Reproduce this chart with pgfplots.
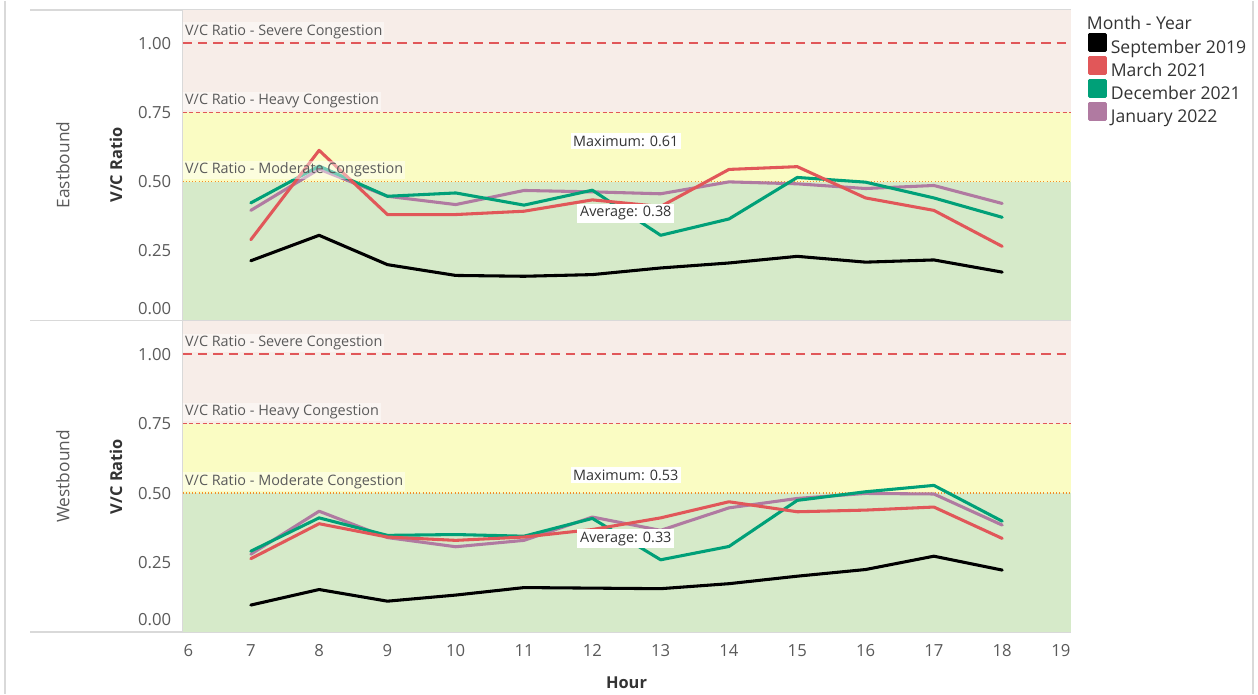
\documentclass[border=0pt]{standalone}
\usepackage{pgfplots}
\usepackage{pgfplotstable}
\pgfplotsset{compat=1.18}
\usepackage{fontspec}
\setmainfont{Open Sans}
\definecolor{cRed}{RGB}{225,87,89}
\definecolor{cGreen}{RGB}{0,160,120}
\definecolor{cPurple}{RGB}{176,122,161}
\definecolor{bPink}{RGB}{247,237,232}
\definecolor{bYellow}{RGB}{250,252,195}
\definecolor{bGreen}{RGB}{214,234,201}
\definecolor{frameGray}{RGB}{217,217,217}
\definecolor{tickGray}{RGB}{90,90,90}
\definecolor{darkText}{RGB}{51,51,51}
\definecolor{refOrange}{RGB}{242,142,43}

\pgfplotstableread{
h sep mar dec jan
7 0.214 0.290 0.423 0.396
8 0.306 0.613 0.556 0.545
9 0.200 0.381 0.447 0.447
10 0.161 0.381 0.459 0.417
11 0.158 0.393 0.415 0.468
12 0.164 0.434 0.469 0.463
13 0.188 0.410 0.306 0.456
14 0.206 0.544 0.365 0.499
15 0.230 0.554 0.515 0.492
16 0.209 0.441 0.498 0.475
17 0.217 0.396 0.441 0.486
18 0.173 0.266 0.371 0.421
}\east
\pgfplotstableread{
h sep mar dec jan
7 0.097 0.264 0.291 0.280
8 0.153 0.390 0.411 0.435
9 0.111 0.342 0.348 0.340
10 0.133 0.330 0.351 0.307
11 0.160 0.342 0.345 0.330
12 0.158 0.369 0.409 0.414
13 0.156 0.411 0.260 0.366
14 0.174 0.469 0.308 0.447
15 0.201 0.433 0.474 0.481
16 0.225 0.439 0.505 0.499
17 0.273 0.450 0.528 0.497
18 0.223 0.337 0.399 0.385
}\west

\tikzset{
  reflab/.style={anchor=west, fill=white, fill opacity=0.45, text opacity=1, inner xsep=1.5pt, inner ysep=1.5pt,
      text=tickGray, font=\fontsize{10.8}{13}\selectfont, yshift=8.8pt, xshift=0.3pt},
  annot/.style={fill=white, inner sep=2pt, text=darkText, font=\fontsize{10.8}{13}\selectfont},
  ser/.style={line width=2.3pt, line join=round, line cap=round},
}

\pgfplotsset{
  set layers,
  panel/.style={
    scale only axis, width=666pt,
    xmin=6, xmax=19, ymin=0, ymax=1.12,
    xtick={7,...,18}, ytick={0.25,0.5,0.75,1},
    major tick length=0pt,
    grid=major,
    major grid style={white, opacity=0.8, line width=0.8pt},
    axis line style={frameGray, line width=1pt},
    /pgf/number format/assume math mode=true,
    yticklabel style={/pgf/number format/.cd, fixed, fixed zerofill, precision=2, /tikz/.cd,
      font=\fontsize{12.5}{15}\selectfont, text=tickGray, xshift=-5pt},
    xticklabel style={font=\fontsize{12.5}{15}\selectfont, text=tickGray, yshift=-6pt},
    extra y ticks={0.043}, extra y tick labels={0.00},
    extra y tick style={grid=none},
    every axis y label/.style={at={(axis description cs:-0.0749,0.5)}, rotate=90, anchor=center,
      font=\bfseries\fontsize{12.3}{15}\selectfont, text=darkText},
    ylabel={V/C Ratio},
    clip=false,
  },
}

\newcommand{\bands}{%
  \fill[bGreen, on layer=axis background] (axis cs:6,0) rectangle (axis cs:19,0.5);
  \fill[bYellow, on layer=axis background] (axis cs:6,0.5) rectangle (axis cs:19,0.75);
  \fill[bPink, on layer=axis background] (axis cs:6,0.75) rectangle (axis cs:19,1.12);
}
\newcommand{\reflines}{%
  \addplot[forget plot, cRed, line width=1.6pt, dash pattern=on 7pt off 4.5pt] coordinates {(6,1) (19,1)};
  \addplot[forget plot, cRed, line width=0.9pt, dash pattern=on 3pt off 2pt] coordinates {(6,0.75) (19,0.75)};
  \addplot[forget plot, refOrange, line width=1pt, dash pattern=on 0.8pt off 1.6pt] coordinates {(6,0.5) (19,0.5)};
}
\newcommand{\reflabels}{%
  \node[reflab] at (axis cs:6,1) {V/C Ratio - Severe Congestion};
  \node[reflab] at (axis cs:6,0.75) {V/C Ratio - Heavy Congestion};
  \node[reflab] at (axis cs:6,0.5) {V/C Ratio - Moderate Congestion};
}
\newcommand{\series}[1]{%
  \addplot[ser, cPurple] table[x=h, y=jan] {#1};
  \addplot[ser, cGreen] table[x=h, y=dec] {#1};
  \addplot[ser, cRed] table[x=h, y=mar] {#1};
  \addplot[ser, black] table[x=h, y=sep] {#1};
}

\begin{document}
\begin{tikzpicture}
\path (0,0) rectangle (943.5pt,-519.75pt);
\draw[frameGray, line width=1.5pt] (3.75pt,0) -- (3.75pt,-519.75pt);
\draw[frameGray, line width=1.5pt] (939.75pt,0) -- (939.75pt,-519.75pt);
\draw[frameGray, line width=1pt] (22.5pt,-6.75pt) -- (136.875pt,-6.75pt);
\draw[frameGray, line width=1pt] (22.5pt,-239.6pt) -- (136.875pt,-239.6pt);
\draw[frameGray, line width=1pt] (22.5pt,-473.25pt) -- (136.875pt,-473.25pt);

\begin{axis}[panel, at={(136.875pt,-6.75pt)}, anchor=north west, height=232.5pt,
  xticklabels={},
  reverse legend,
  legend style={at={(axis description cs:1.0200,0.9265)}, anchor=north west, draw=none, fill=none,
    inner sep=0pt, outer sep=0pt, row sep=-1.1pt, column sep=2.6pt,
    font=\fontsize{13.2}{16}\selectfont, text=darkText,
    nodes={inner sep=0pt, text height=10pt, text depth=3pt}},
  legend cell align=left,
  legend image code/.code={\fill[#1] (0pt,-1.2pt) rectangle (12pt,10.8pt);},
]
\bands
\reflines
\series{\east}
\legend{January 2022, December 2021, March 2021, September 2019}
\reflabels
\node[annot] at (axis cs:12.49,0.647) {Maximum: 0.61};
\node[annot] at (axis cs:12.49,0.386) {Average: 0.38};
\node[rotate=90, text=tickGray, font=\fontsize{13}{15}\selectfont] at (axis description cs:-0.1346,0.5) {Eastbound};
\end{axis}

\begin{axis}[panel, at={(136.875pt,-240pt)}, anchor=north west, height=233.25pt,
  extra x ticks={6.085,18.86}, extra x tick labels={6,19},
  extra x tick style={grid=none},
  xlabel={Hour},
  every axis x label/.style={at={(axis description cs:0.5,-0.164)}, anchor=center,
      font=\bfseries\fontsize{12.3}{15}\selectfont, text=darkText},
]
\bands
\reflines
\series{\west}
\reflabels
\node[annot] at (axis cs:12.49,0.564) {Maximum: 0.53};
\node[annot] at (axis cs:12.49,0.336) {Average: 0.33};
\node[rotate=90, text=tickGray, font=\fontsize{13}{15}\selectfont] at (axis description cs:-0.1346,0.5) {Westbound};
\end{axis}

\node[anchor=west, inner sep=0pt, text=darkText, font=\fontsize{13.2}{16}\selectfont] at (815pt,-16.3pt) {Month - Year};
\end{tikzpicture}
\end{document}
